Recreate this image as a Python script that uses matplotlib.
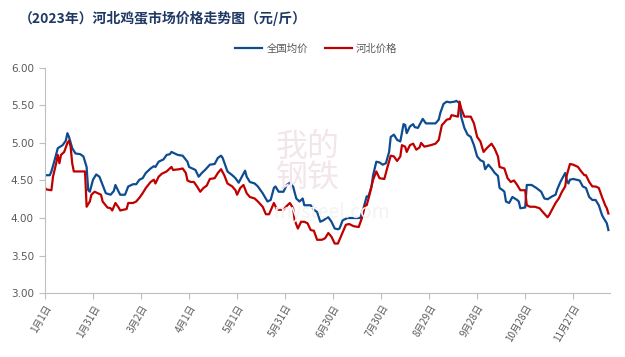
import matplotlib
matplotlib.use("Agg")
import matplotlib.pyplot as plt

plt.rcParams['font.family'] = ['Noto Sans CJK SC', 'DejaVu Sans']

# 全国均价 (day offset from 2023-01-01, price)
nat_days = [0, 3, 4, 6, 8, 11, 13, 14, 15, 17, 19, 22, 24, 26, 27, 28, 30, 32, 34, 36,
            38, 41, 43, 44, 46, 47, 50, 52, 55, 57, 59, 61, 63, 66, 68, 69, 71, 74, 76, 78,
            79, 81, 83, 86, 89, 90, 92, 94, 96, 98, 100, 103, 106, 108, 110, 111, 114, 117, 119, 121,
            123, 125, 126, 128, 131, 133, 136, 139, 141, 143, 144, 146, 149, 151, 153, 155, 157, 159, 161, 162,
            166, 168, 170, 172, 174, 176, 177, 179, 181, 183, 184, 186, 189, 197, 199, 201, 202, 204, 205, 207,
            209, 211, 213, 215, 216, 218, 220, 222, 224, 225, 226, 228, 230, 231, 233, 235, 236, 238, 244, 246,
            247, 249, 251, 253, 256, 257, 259, 260, 262, 264, 266, 268, 270, 272, 274, 275, 277, 279, 281, 283,
            284, 286, 287, 288, 290, 292, 295, 296, 297, 300, 301, 304, 307, 310, 312, 314, 317, 319, 320, 322,
            324, 325, 326, 327, 328, 330, 334, 336, 338, 340, 342, 344, 346, 348, 349, 351, 352]
nat_vals = [4.57, 4.57, 4.62, 4.77, 4.93, 4.97, 5.03, 5.13, 5.08, 4.93, 4.86, 4.85, 4.82, 4.68, 4.37, 4.35, 4.51, 4.58, 4.55, 4.44,
            4.33, 4.31, 4.36, 4.44, 4.35, 4.31, 4.31, 4.42, 4.45, 4.45, 4.51, 4.53, 4.60, 4.66, 4.69, 4.68, 4.75, 4.78, 4.84, 4.85,
            4.88, 4.86, 4.84, 4.83, 4.75, 4.68, 4.66, 4.64, 4.55, 4.60, 4.64, 4.71, 4.72, 4.80, 4.83, 4.80, 4.62, 4.57, 4.53, 4.47,
            4.55, 4.63, 4.55, 4.48, 4.46, 4.42, 4.33, 4.22, 4.24, 4.40, 4.42, 4.35, 4.35, 4.44, 4.47, 4.42, 4.26, 4.22, 4.26, 4.17,
            4.17, 4.11, 4.08, 3.95, 3.97, 4.00, 4.01, 3.95, 3.86, 3.85, 3.86, 3.97, 4.00, 4.00, 4.13, 4.29, 4.28, 4.42, 4.57, 4.75,
            4.74, 4.71, 4.73, 4.88, 5.08, 5.11, 5.04, 5.02, 5.25, 5.24, 5.13, 5.22, 5.25, 5.21, 5.20, 5.28, 5.32, 5.26, 5.26, 5.31,
            5.40, 5.52, 5.55, 5.54, 5.55, 5.56, 5.53, 5.35, 5.20, 5.11, 5.08, 4.97, 4.82, 4.77, 4.75, 4.65, 4.71, 4.66, 4.60, 4.56,
            4.40, 4.37, 4.35, 4.22, 4.20, 4.28, 4.24, 4.22, 4.13, 4.14, 4.44, 4.44, 4.40, 4.35, 4.26, 4.25, 4.29, 4.31, 4.38, 4.48,
            4.56, 4.60, 4.50, 4.46, 4.51, 4.52, 4.50, 4.42, 4.40, 4.28, 4.24, 4.24, 4.17, 4.04, 4.00, 3.93, 3.84]

# 河北价格
heb_days = [0, 1, 4, 5, 7, 8, 9, 10, 12, 14, 15, 16, 17, 18, 25, 26, 28, 29, 31, 33,
            35, 36, 39, 41, 42, 44, 46, 47, 51, 52, 55, 57, 59, 61, 63, 66, 68, 69, 71, 73,
            76, 77, 79, 80, 84, 86, 88, 89, 91, 93, 95, 97, 99, 101, 103, 106, 108, 110, 112, 114,
            117, 119, 120, 122, 124, 126, 128, 131, 133, 136, 138, 140, 142, 143, 145, 149, 151, 153, 155, 156,
            158, 160, 162, 164, 166, 168, 170, 173, 175, 177, 179, 181, 183, 184, 188, 190, 193, 196, 198, 200,
            201, 203, 205, 207, 209, 212, 214, 216, 218, 220, 222, 223, 225, 226, 228, 230, 232, 234, 235, 237,
            241, 244, 246, 248, 249, 251, 253, 254, 256, 258, 259, 260, 262, 266, 268, 270, 272, 274, 276, 279,
            281, 283, 284, 287, 289, 291, 293, 295, 297, 300, 301, 303, 306, 309, 311, 314, 315, 317, 319, 321,
            323, 325, 326, 328, 330, 333, 335, 337, 338, 340, 342, 344, 346, 348, 350, 351, 352]
heb_vals = [4.40, 4.38, 4.37, 4.55, 4.73, 4.84, 4.73, 4.84, 4.88, 5.00, 5.03, 4.95, 4.73, 4.62, 4.62, 4.15, 4.22, 4.31, 4.35, 4.33,
            4.31, 4.22, 4.14, 4.13, 4.10, 4.20, 4.14, 4.10, 4.12, 4.20, 4.20, 4.22, 4.27, 4.33, 4.40, 4.48, 4.51, 4.46, 4.55, 4.59,
            4.62, 4.64, 4.68, 4.64, 4.65, 4.66, 4.60, 4.50, 4.48, 4.48, 4.42, 4.35, 4.40, 4.43, 4.52, 4.53, 4.60, 4.65, 4.57, 4.46,
            4.42, 4.37, 4.31, 4.40, 4.44, 4.33, 4.28, 4.26, 4.22, 4.15, 4.05, 4.05, 4.15, 4.20, 4.11, 4.11, 4.16, 4.20, 4.13, 3.97,
            3.86, 3.95, 3.95, 3.93, 3.84, 3.83, 3.71, 3.71, 3.73, 3.80, 3.75, 3.66, 3.66, 3.71, 3.91, 3.92, 3.89, 3.88, 4.00, 4.17,
            4.17, 4.33, 4.51, 4.62, 4.53, 4.52, 4.68, 4.83, 4.82, 4.76, 4.82, 4.97, 4.95, 4.88, 4.97, 4.99, 4.91, 4.94, 5.00, 4.95,
            4.97, 4.99, 5.04, 5.24, 5.26, 5.31, 5.32, 5.37, 5.36, 5.35, 5.55, 5.46, 5.35, 5.35, 5.26, 5.08, 5.02, 4.88, 4.93, 4.99,
            4.92, 4.82, 4.68, 4.66, 4.53, 4.48, 4.50, 4.44, 4.37, 4.37, 4.17, 4.15, 4.15, 4.13, 4.08, 4.01, 4.04, 4.12, 4.20, 4.26,
            4.35, 4.42, 4.57, 4.72, 4.71, 4.68, 4.62, 4.57, 4.57, 4.48, 4.42, 4.42, 4.40, 4.28, 4.17, 4.13, 4.06]

tick_days = [0, 30, 60, 90, 120, 150, 180, 210, 240, 270, 300, 330]
tick_labels = ['1月1日', '1月31日', '3月2日', '4月1日', '5月1日', '5月31日',
               '6月30日', '7月30日', '8月29日', '9月28日', '10月28日', '11月27日']
y_ticks = [3.00, 3.50, 4.00, 4.50, 5.00, 5.50, 6.00]

title = '（2023年）河北鸡蛋市场价格走势图（元/斤）'
series_names = ['全国均价', '河北价格']
colors = ['#0E4C92', '#C00000']

fig = plt.figure(figsize=(6.25, 3.57), dpi=100)
ax = fig.add_axes([0.072, 0.179, 0.904, 0.631])

# faint watermark (drawn behind the data)
fig.text(0.493, 0.545, '我的\n钢铁', fontsize=23, color='#f2e6e8', ha='center', va='center',
         linespacing=1.0, zorder=0)
fig.text(0.53, 0.405, 'mysteel.com', fontsize=14, color='#f3f3f3', ha='center', va='center', zorder=0)

ax.plot(nat_days, nat_vals, color=colors[0], lw=1.6, label=series_names[0], solid_joinstyle='round')
ax.plot(heb_days, heb_vals, color=colors[1], lw=1.6, label=series_names[1], solid_joinstyle='round')
ax.patch.set_alpha(0)

ax.set_xlim(0, 353)
ax.set_ylim(3.0, 6.0)
ax.set_yticks(y_ticks)
ax.set_yticklabels([f'{v:.2f}' for v in y_ticks], fontsize=7.5, color='#595959',
                   family=['DejaVu Sans'])
ax.set_xticks(tick_days)
ax.set_xticklabels(tick_labels, fontsize=7, color='#595959', rotation=60,
                   ha='right', va='top', rotation_mode='anchor')

for s in ['top', 'right']:
    ax.spines[s].set_visible(False)
for s in ['left', 'bottom']:
    ax.spines[s].set_color('#BFBFBF')
    ax.spines[s].set_linewidth(0.8)
ax.tick_params(axis='both', colors='#BFBFBF', length=4, width=0.8, labelcolor='#595959')
ax.tick_params(axis='x', pad=3)
ax.tick_params(axis='y', pad=4)

fig.text(0.03, 0.948, title, fontsize=10, fontweight='bold', color='#1F3864', ha='left', va='center')

leg = ax.legend(loc='lower center', bbox_to_anchor=(0.48, 1.02), ncol=2, frameon=False,
                fontsize=7.5, handlelength=2.6, handletextpad=0.4, columnspacing=1.6)
for t in leg.get_texts():
    t.set_color('#595959')

fig.savefig('out.png', dpi=100)
